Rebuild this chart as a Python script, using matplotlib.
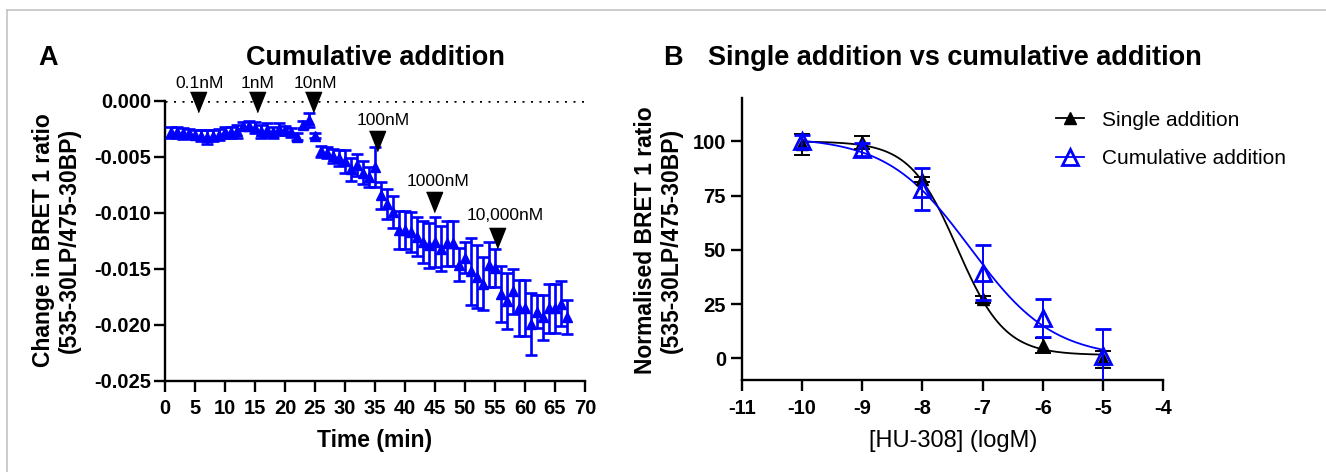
import numpy as np
import matplotlib
matplotlib.use("Agg")
import matplotlib.pyplot as plt
from matplotlib.lines import Line2D

plt.rcParams['font.family'] = ['Liberation Sans', 'DejaVu Sans']
plt.rcParams['axes.unicode_minus'] = False

### DATA ###

# panel A - BRET change over time, cumulative HU-308 additions
time_min = [1, 2, 3, 4, 5, 6, 7, 8, 9, 10, 11, 12, 13, 14, 15, 16, 17, 18, 19, 20,
            21, 22, 23, 24, 25, 26, 27, 28, 29, 30, 31, 32, 33, 34, 35, 36, 37, 38, 39, 40,
            41, 42, 43, 44, 45, 46, 47, 48, 49, 50, 51, 52, 53, 54, 55, 56, 57, 58, 59, 60,
            61, 62, 63, 64, 65, 66, 67]
bret_change = [-0.0028, -0.0028, -0.0029, -0.0029, -0.0030, -0.0031, -0.0032, -0.0031, -0.0030, -0.0028,
               -0.0028, -0.0027, -0.0022, -0.0022, -0.0024, -0.0027, -0.0026, -0.0028, -0.0025, -0.0026,
               -0.0028, -0.0032, -0.0021, -0.0017, -0.0031, -0.0045, -0.0046, -0.0049, -0.0051, -0.0054,
               -0.0061, -0.0057, -0.0064, -0.0068, -0.0059, -0.0084, -0.0092, -0.0099, -0.0115, -0.0115,
               -0.0117, -0.0121, -0.0126, -0.0129, -0.0126, -0.0132, -0.0127, -0.0127, -0.0146, -0.0140,
               -0.0152, -0.0157, -0.0163, -0.0146, -0.0149, -0.0172, -0.0179, -0.0170, -0.0185, -0.0185,
               -0.0199, -0.0188, -0.0193, -0.0185, -0.0185, -0.0181, -0.0193]
bret_err = [0.0005, 0.0005, 0.0005, 0.0004, 0.0004, 0.0005, 0.0006, 0.0005, 0.0005, 0.0005,
            0.0005, 0.0006, 0.0003, 0.0004, 0.0005, 0.0006, 0.0006, 0.0005, 0.0005, 0.0004,
            0.0004, 0.0003, 0.0003, 0.0006, 0.0002, 0.0005, 0.0005, 0.0006, 0.0007, 0.0010,
            0.0010, 0.0010, 0.0010, 0.0009, 0.0018, 0.0012, 0.0013, 0.0014, 0.0017, 0.0017,
            0.0018, 0.0017, 0.0019, 0.0020, 0.0022, 0.0020, 0.0020, 0.0020, 0.0015, 0.0014,
            0.0030, 0.0028, 0.0024, 0.0020, 0.0017, 0.0025, 0.0025, 0.0020, 0.0025, 0.0025,
            0.0028, 0.0015, 0.0020, 0.0022, 0.0022, 0.0020, 0.0015]

# addition arrows
dose_labels = ['0.1nM', '1nM', '10nM', '100nM', '1000nM', '10,000nM']
dose_time = [5.5, 15.3, 24.7, 35.3, 44.8, 55.3]
arrow_y = [-0.0001, -0.0001, -0.0001, -0.0036, -0.0090, -0.0122]
label_x = [5.8, 15.5, 25.0, 36.3, 45.5, 56.7]
label_y = [0.0016, 0.0016, 0.0016, -0.0017, -0.0072, -0.0102]

# panel B - concentration response
log_conc = [-10, -9, -8, -7, -6, -5]
single_mean = [98.6, 99.6, 82.5, 27.2, 6.0, -0.5]
single_err = [4.8, 3.0, 1.0, 1.5, 3.5, 4.0]
cumul_mean = [100.0, 96.3, 77.9, 39.5, 18.7, 1.0]
cumul_err = [3.0, 3.0, 9.6, 12.8, 8.8, 12.7]

# fitted curve parameters (top, bottom, logIC50, hill)
single_fit = (100.0, 1.5, -7.42, 1.1)
cumul_fit = (102.0, 0.0, -7.21, 0.63)

### FIGURE ###

W, H = 1326, 472
fig = plt.figure(figsize=(W / 100, H / 100), dpi=100)
fig.patch.set_facecolor('white')

# thin frame lines of the original page
fig.add_artist(Line2D([7 / W, 1], [1 - 10 / H, 1 - 10 / H], color='#c4c4c4', lw=1.2))
fig.add_artist(Line2D([7 / W, 7 / W], [0, 1 - 10 / H], color='#c4c4c4', lw=1.2))

axA = fig.add_axes([165 / W, 1 - 381 / H, 420 / W, 280 / H])
axB = fig.add_axes([742 / W, 1 - 380 / H, 421 / W, 282 / H])

for ax in (axA, axB):
    ax.spines['top'].set_visible(False)
    ax.spines['right'].set_visible(False)
    ax.spines['left'].set_linewidth(1.7)
    ax.spines['bottom'].set_linewidth(1.7)
    ax.tick_params(length=8, width=1.7)

# --- panel A ---
axA.plot([0, 70], [0, 0], color='k', lw=1.8, ls=(0, (0.8, 2.6)), zorder=1)
axA.errorbar(time_min, bret_change, yerr=bret_err, fmt='^', color='#0000ff',
             ms=7, capsize=4.5, elinewidth=1.9, capthick=1.9, zorder=3)

arrow_marker = [(-8, 10), (8, 10), (0, -10)]
axA.plot(dose_time, arrow_y, ls='none', marker=arrow_marker, ms=14.5, color='k',
         clip_on=False, zorder=5)
for lx, ly, lab in zip(label_x, label_y, dose_labels):
    axA.text(lx, ly, lab, ha='center', va='center', fontsize=12.5)

axA.set_xlim(0, 70)
axA.set_ylim(-0.025, 0)
axA.set_xticks(range(0, 71, 5))
axA.set_yticks([0, -0.005, -0.010, -0.015, -0.020, -0.025])
axA.set_yticklabels(['0.000', '-0.005', '-0.010', '-0.015', '-0.020', '-0.025'])
axA.tick_params(axis='x', pad=5, labelsize=14.5)
axA.tick_params(axis='y', pad=2, labelsize=14.5)
for lab in axA.get_xticklabels() + axA.get_yticklabels():
    lab.set_fontweight('bold')

# --- panel B ---
def four_pl(x, p):
    top, bottom, logic50, hill = p
    return bottom + (top - bottom) / (1 + 10 ** ((x - logic50) * hill))

xc = np.linspace(-10, -5, 300)
axB.plot(xc, four_pl(xc, single_fit), color='k', lw=1.3, zorder=2)
axB.plot(xc, four_pl(xc, cumul_fit), color='#0000ff', lw=1.3, zorder=2)
axB.errorbar(log_conc, single_mean, yerr=single_err, fmt='^', color='k', ms=8,
             capsize=6, elinewidth=1.4, capthick=1.4, zorder=3)
axB.errorbar(log_conc, cumul_mean, yerr=cumul_err, fmt='^', color='#0000ff',
             mfc='none', mew=2, ms=11, capsize=6, elinewidth=1.4, capthick=1.4, zorder=4)

axB.set_xlim(-11, -4)
axB.set_ylim(-10, 120)
axB.set_xticks(range(-11, -3))
axB.set_yticks([0, 25, 50, 75, 100])
axB.tick_params(axis='x', pad=6, labelsize=14.5)
axB.tick_params(axis='y', pad=3.5, labelsize=14.5)
for lab in axB.get_xticklabels() + axB.get_yticklabels():
    lab.set_fontweight('bold')

handles = [Line2D([], [], color='k', marker='^', ms=8, lw=1.3),
           Line2D([], [], color='#0000ff', marker='^', mfc='none', mew=2, ms=11, lw=1.3)]
axB.legend(handles, ['Single addition', 'Cumulative addition'], loc='upper left',
           bbox_to_anchor=(0.747, 0.955), frameon=False, fontsize=15,
           handlelength=1.3, handletextpad=0.9, labelspacing=0.95,
           borderpad=0, borderaxespad=0)

# --- text ---
fig.text(38 / W, 1 - 65 / H, 'A', fontsize=19.5, fontweight='bold', va='baseline')
fig.text(375 / W, 1 - 65 / H, 'Cumulative addition', fontsize=19.5, fontweight='bold',
         ha='center', va='baseline')
fig.text(663 / W, 1 - 65 / H, 'B', fontsize=19.5, fontweight='bold', va='baseline')
fig.text(708 / W, 1 - 65 / H, 'Single addition vs cumulative addition', fontsize=19.5,
         fontweight='bold', va='baseline')

fig.text(56.5 / W, 1 - 240 / H, 'Change in BRET 1 ratio\n(535-30LP/475-30BP)',
         rotation=90, ha='center', va='center', fontsize=16.5, fontweight='bold',
         multialignment='center', linespacing=1.15)
fig.text(658.5 / W, 1 - 240 / H, 'Normalised BRET 1 ratio\n(535-30LP/475-30BP)',
         rotation=90, ha='center', va='center', fontsize=16.5, fontweight='bold',
         multialignment='center', linespacing=1.15)
fig.text(375 / W, 1 - 441 / H, 'Time (min)', ha='center', va='center',
         fontsize=16.5, fontweight='bold')
fig.text(953 / W, 1 - 441 / H, '[HU-308] (logM)', ha='center', va='center',
         fontsize=17)

fig.savefig('out.png', dpi=100, facecolor='white')
